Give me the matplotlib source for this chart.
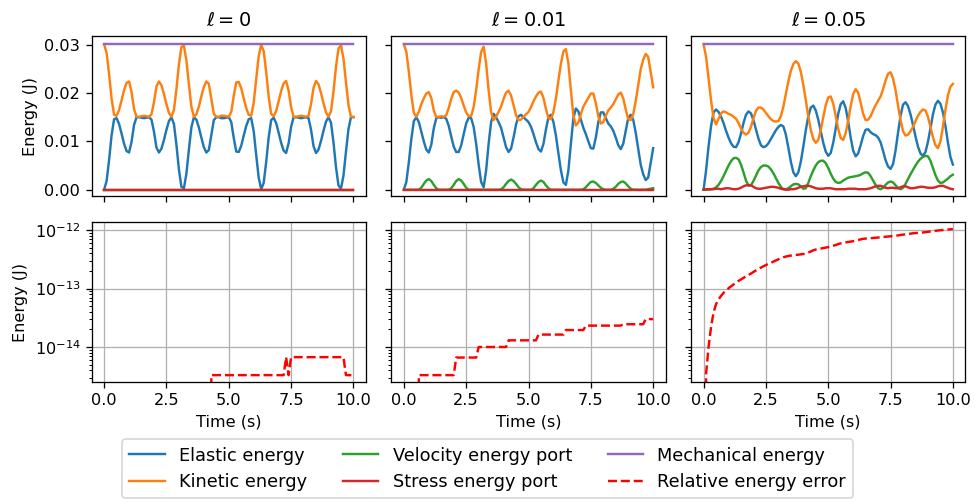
import numpy as np
import matplotlib
matplotlib.use("Agg")
import matplotlib.pyplot as plt

# time grid of the saved samples (s)
t = np.linspace(0.0, 10.0, 101)

ell_values = ["0", "0.01", "0.05"]
mechanical = [0.0301] * len(t)

# ---- ell = 0 ----
elastic_l0 = [
    0.0000, 0.0018, 0.0062, 0.0113, 0.0146, 0.0148, 0.0136, 0.0116, 0.0095, 0.0080,
    0.0077, 0.0099, 0.0134, 0.0150, 0.0150, 0.0149, 0.0148, 0.0149, 0.0150, 0.0145,
    0.0120, 0.0087, 0.0077, 0.0085, 0.0103, 0.0124, 0.0142, 0.0150, 0.0136, 0.0093,
    0.0042, 0.0006, 0.0003, 0.0033, 0.0083, 0.0129, 0.0150, 0.0145, 0.0129, 0.0108,
    0.0088, 0.0077, 0.0082, 0.0113, 0.0144, 0.0150, 0.0150, 0.0148, 0.0148, 0.0149,
    0.0150, 0.0140, 0.0107, 0.0079, 0.0078, 0.0091, 0.0112, 0.0132, 0.0146, 0.0148,
    0.0121, 0.0072, 0.0025, 0.0001, 0.0014, 0.0057, 0.0108, 0.0144, 0.0149, 0.0138,
    0.0118, 0.0097, 0.0081, 0.0076, 0.0096, 0.0130, 0.0150, 0.0150, 0.0149, 0.0148,
    0.0149, 0.0150, 0.0148, 0.0124, 0.0090, 0.0076, 0.0083, 0.0101, 0.0122, 0.0141,
    0.0150, 0.0139, 0.0098, 0.0047, 0.0009, 0.0002, 0.0029, 0.0078, 0.0125, 0.0150,
    0.0150]
kinetic_l0 = [
    0.0301, 0.0283, 0.0239, 0.0188, 0.0155, 0.0153, 0.0165, 0.0185, 0.0206, 0.0221,
    0.0224, 0.0202, 0.0167, 0.0151, 0.0151, 0.0152, 0.0153, 0.0152, 0.0151, 0.0156,
    0.0181, 0.0214, 0.0224, 0.0216, 0.0198, 0.0177, 0.0159, 0.0151, 0.0165, 0.0208,
    0.0259, 0.0295, 0.0298, 0.0268, 0.0218, 0.0172, 0.0151, 0.0156, 0.0172, 0.0193,
    0.0213, 0.0224, 0.0219, 0.0188, 0.0157, 0.0151, 0.0151, 0.0153, 0.0153, 0.0152,
    0.0151, 0.0161, 0.0194, 0.0222, 0.0223, 0.0210, 0.0189, 0.0169, 0.0155, 0.0153,
    0.0180, 0.0229, 0.0276, 0.0300, 0.0287, 0.0244, 0.0193, 0.0157, 0.0152, 0.0163,
    0.0183, 0.0204, 0.0220, 0.0225, 0.0205, 0.0171, 0.0151, 0.0151, 0.0152, 0.0153,
    0.0152, 0.0151, 0.0153, 0.0177, 0.0211, 0.0225, 0.0218, 0.0200, 0.0179, 0.0160,
    0.0151, 0.0162, 0.0203, 0.0254, 0.0292, 0.0299, 0.0272, 0.0223, 0.0176, 0.0151,
    0.0151]
velocity_l0 = [0.0] * len(t)
stress_l0 = [0.0] * len(t)
error_l0 = (
    [0.0] * 43
    + [3.3e-15] * 30
    + [6.7e-15, 3.3e-15]
    + [6.7e-15] * 22
    + [3.3e-15] * 4)

# ---- ell = 0.01 ----
elastic_l1 = [
    0.0000, 0.0016, 0.0057, 0.0105, 0.0142, 0.0150, 0.0140, 0.0120, 0.0100, 0.0083,
    0.0077, 0.0093, 0.0127, 0.0148, 0.0150, 0.0149, 0.0150, 0.0147, 0.0132, 0.0110,
    0.0089, 0.0078, 0.0078, 0.0092, 0.0115, 0.0137, 0.0149, 0.0148, 0.0130, 0.0095,
    0.0052, 0.0016, 0.0005, 0.0040, 0.0095, 0.0140, 0.0157, 0.0150, 0.0140, 0.0128,
    0.0108, 0.0088, 0.0078, 0.0085, 0.0108, 0.0135, 0.0152, 0.0155, 0.0150, 0.0145,
    0.0140, 0.0130, 0.0115, 0.0098, 0.0084, 0.0079, 0.0095, 0.0125, 0.0150, 0.0155,
    0.0140, 0.0112, 0.0075, 0.0040, 0.0015, 0.0010, 0.0040, 0.0095, 0.0148, 0.0168,
    0.0162, 0.0145, 0.0128, 0.0115, 0.0100, 0.0086, 0.0085, 0.0108, 0.0140, 0.0160,
    0.0160, 0.0148, 0.0137, 0.0131, 0.0122, 0.0108, 0.0092, 0.0084, 0.0095, 0.0122,
    0.0148, 0.0155, 0.0145, 0.0118, 0.0085, 0.0052, 0.0032, 0.0020, 0.0025, 0.0055,
    0.0086]
kinetic_l1 = [
    0.0301, 0.0285, 0.0244, 0.0196, 0.0159, 0.0151, 0.0161, 0.0177, 0.0189, 0.0199,
    0.0202, 0.0190, 0.0164, 0.0150, 0.0151, 0.0152, 0.0151, 0.0154, 0.0169, 0.0188,
    0.0202, 0.0205, 0.0201, 0.0190, 0.0174, 0.0160, 0.0152, 0.0153, 0.0171, 0.0206,
    0.0249, 0.0285, 0.0296, 0.0261, 0.0206, 0.0161, 0.0144, 0.0151, 0.0161, 0.0172,
    0.0188, 0.0201, 0.0205, 0.0195, 0.0175, 0.0154, 0.0144, 0.0145, 0.0151, 0.0156,
    0.0161, 0.0171, 0.0183, 0.0193, 0.0201, 0.0203, 0.0190, 0.0167, 0.0148, 0.0146,
    0.0161, 0.0189, 0.0226, 0.0261, 0.0286, 0.0291, 0.0261, 0.0206, 0.0153, 0.0133,
    0.0139, 0.0156, 0.0172, 0.0181, 0.0190, 0.0199, 0.0199, 0.0179, 0.0152, 0.0137,
    0.0140, 0.0153, 0.0164, 0.0170, 0.0177, 0.0187, 0.0197, 0.0201, 0.0189, 0.0166,
    0.0146, 0.0144, 0.0156, 0.0183, 0.0216, 0.0249, 0.0269, 0.0281, 0.0275, 0.0244,
    0.0212]
velocity_l1 = [
    0.0, 0.0, 0.0, 0.0, 0.0, 0.0, 0.0, 0.0004, 0.0012, 0.0019,
    0.0022, 0.0018, 0.0010, 0.0003, 0.0, 0.0, 0.0, 0.0, 0.0, 0.0003,
    0.0010, 0.0018, 0.0022, 0.0019, 0.0012, 0.0004, 0.0, 0.0, 0.0, 0.0,
    0.0, 0.0, 0.0, 0.0, 0.0, 0.0, 0.0, 0.0, 0.0, 0.0001,
    0.0005, 0.0012, 0.0018, 0.0021, 0.0018, 0.0012, 0.0005, 0.0001, 0.0, 0.0,
    0.0, 0.0, 0.0003, 0.0010, 0.0016, 0.0019, 0.0016, 0.0009, 0.0003, 0.0,
    0.0, 0.0, 0.0, 0.0, 0.0, 0.0, 0.0, 0.0, 0.0, 0.0,
    0.0, 0.0, 0.0001, 0.0005, 0.0011, 0.0016, 0.0017, 0.0014, 0.0009, 0.0004,
    0.0001, 0.0, 0.0, 0.0, 0.0002, 0.0006, 0.0012, 0.0016, 0.0017, 0.0013,
    0.0007, 0.0002, 0.0, 0.0, 0.0, 0.0, 0.0, 0.0, 0.0001, 0.0002,
    0.0003]
stress_l1 = [0.0] * len(t)
error_l1 = (
    [0.0] * 6
    + [3.3e-15] * 15
    + [6.6e-15] * 9
    + [1.0e-14] * 12
    + [1.3e-14] * 12
    + [1.63e-14] * 11
    + [1.95e-14] * 8
    + [2.32e-14] * 15
    + [2.45e-14] * 9
    + [3.0e-14] * 4)

# ---- ell = 0.05 ----
elastic_l5 = [
    0.0000, 0.0040, 0.0090, 0.0132, 0.0160, 0.0166, 0.0161, 0.0151, 0.0138, 0.0122,
    0.0108, 0.0096, 0.0089, 0.0088, 0.0098, 0.0116, 0.0138, 0.0155, 0.0162, 0.0158,
    0.0144, 0.0125, 0.0106, 0.0092, 0.0088, 0.0090, 0.0096, 0.0105, 0.0114, 0.0123,
    0.0130, 0.0134, 0.0131, 0.0114, 0.0087, 0.0058, 0.0036, 0.0028, 0.0036, 0.0058,
    0.0089, 0.0123, 0.0152, 0.0170, 0.0174, 0.0164, 0.0145, 0.0121, 0.0097, 0.0079,
    0.0070, 0.0076, 0.0097, 0.0127, 0.0157, 0.0177, 0.0183, 0.0169, 0.0141, 0.0108,
    0.0081, 0.0069, 0.0075, 0.0092, 0.0111, 0.0124, 0.0125, 0.0119, 0.0115, 0.0113,
    0.0108, 0.0098, 0.0080, 0.0061, 0.0048, 0.0043, 0.0053, 0.0081, 0.0118, 0.0153,
    0.0176, 0.0181, 0.0173, 0.0156, 0.0134, 0.0110, 0.0089, 0.0075, 0.0070, 0.0078,
    0.0099, 0.0127, 0.0156, 0.0176, 0.0184, 0.0178, 0.0160, 0.0132, 0.0098, 0.0068,
    0.0052]
kinetic_l5 = [
    0.0301, 0.0275, 0.0230, 0.0185, 0.0148, 0.0135, 0.0147, 0.0158, 0.0162, 0.0160,
    0.0157, 0.0155, 0.0151, 0.0147, 0.0138, 0.0127, 0.0118, 0.0114, 0.0118, 0.0130,
    0.0148, 0.0163, 0.0170, 0.0170, 0.0166, 0.0159, 0.0152, 0.0146, 0.0142, 0.0141,
    0.0142, 0.0152, 0.0172, 0.0198, 0.0224, 0.0246, 0.0260, 0.0266, 0.0261, 0.0244,
    0.0217, 0.0185, 0.0152, 0.0124, 0.0105, 0.0097, 0.0103, 0.0123, 0.0150, 0.0175,
    0.0191, 0.0193, 0.0178, 0.0153, 0.0126, 0.0107, 0.0103, 0.0117, 0.0143, 0.0173,
    0.0198, 0.0208, 0.0201, 0.0180, 0.0157, 0.0144, 0.0145, 0.0152, 0.0164, 0.0175,
    0.0184, 0.0193, 0.0208, 0.0226, 0.0240, 0.0243, 0.0230, 0.0206, 0.0174, 0.0144,
    0.0121, 0.0112, 0.0114, 0.0121, 0.0130, 0.0142, 0.0153, 0.0161, 0.0166, 0.0164,
    0.0151, 0.0130, 0.0109, 0.0092, 0.0086, 0.0100, 0.0130, 0.0165, 0.0195, 0.0213,
    0.0219]
velocity_l5 = [
    0.0, 0.0, 0.0, 0.0001, 0.0002, 0.0005, 0.0010, 0.0018, 0.0028, 0.0039,
    0.0050, 0.0059, 0.0065, 0.0066, 0.0063, 0.0052, 0.0036, 0.0019, 0.0008, 0.0009,
    0.0018, 0.0029, 0.0040, 0.0047, 0.0050, 0.0050, 0.0048, 0.0042, 0.0034, 0.0024,
    0.0014, 0.0006, 0.0001, 0.0001, 0.0003, 0.0007, 0.0011, 0.0012, 0.0011, 0.0007,
    0.0002, 0.0003, 0.0014, 0.0028, 0.0040, 0.0050, 0.0057, 0.0060, 0.0060, 0.0055,
    0.0045, 0.0033, 0.0023, 0.0016, 0.0014, 0.0015, 0.0019, 0.0022, 0.0025, 0.0026,
    0.0027, 0.0028, 0.0029, 0.0031, 0.0034, 0.0036, 0.0035, 0.0028, 0.0019, 0.0010,
    0.0003, 0.0001, 0.0004, 0.0010, 0.0015, 0.0017, 0.0015, 0.0009, 0.0004, 0.0001,
    0.0004, 0.0012, 0.0022, 0.0032, 0.0041, 0.0050, 0.0058, 0.0064, 0.0068, 0.0070,
    0.0069, 0.0060, 0.0045, 0.0030, 0.0019, 0.0014, 0.0015, 0.0019, 0.0023, 0.0028,
    0.0031]
stress_l5 = [
    0.0, 0.0001, 0.0001, 0.0001, 0.0001, 0.0002, 0.0002, 0.0001, 0.0002, 0.0003,
    0.0003, 0.0002, 0.0001, 0.0001, 0.0002, 0.0004, 0.0007, 0.0009, 0.0010, 0.0009,
    0.0006, 0.0003, 0.0002, 0.0002, 0.0003, 0.0004, 0.0005, 0.0006, 0.0006, 0.0005,
    0.0004, 0.0002, 0.0001, 0.0, 0.0, 0.0001, 0.0001, 0.0002, 0.0004, 0.0006,
    0.0007, 0.0008, 0.0008, 0.0007, 0.0005, 0.0003, 0.0002, 0.0002, 0.0002, 0.0003,
    0.0003, 0.0003, 0.0002, 0.0001, 0.0001, 0.0001, 0.0001, 0.0001, 0.0002, 0.0002,
    0.0002, 0.0002, 0.0001, 0.0001, 0.0001, 0.0001, 0.0002, 0.0003, 0.0005, 0.0007,
    0.0008, 0.0008, 0.0006, 0.0004, 0.0003, 0.0004, 0.0004, 0.0003, 0.0003, 0.0005,
    0.0007, 0.0007, 0.0005, 0.0003, 0.0003, 0.0004, 0.0005, 0.0006, 0.0006, 0.0005,
    0.0004, 0.0004, 0.0004, 0.0005, 0.0007, 0.0008, 0.0008, 0.0006, 0.0004, 0.0002,
    0.0001]
error_l5 = [
    0.0, 3.5e-15, 1.0e-14, 2.2e-14, 3.9e-14, 5.4e-14, 6.5e-14, 7.5e-14, 8.4e-14, 9.3e-14,
    1.01e-13, 1.09e-13, 1.17e-13, 1.26e-13, 1.35e-13, 1.43e-13, 1.52e-13, 1.62e-13, 1.71e-13, 1.80e-13,
    1.92e-13, 2.04e-13, 2.15e-13, 2.28e-13, 2.40e-13, 2.52e-13, 2.64e-13, 2.75e-13, 2.88e-13, 3.02e-13,
    3.16e-13, 3.30e-13, 3.42e-13, 3.52e-13, 3.60e-13, 3.66e-13, 3.71e-13, 3.75e-13, 3.79e-13, 3.84e-13,
    3.89e-13, 3.98e-13, 4.12e-13, 4.30e-13, 4.50e-13, 4.64e-13, 4.74e-13, 4.83e-13, 4.92e-13, 5.01e-13,
    5.10e-13, 5.23e-13, 5.38e-13, 5.55e-13, 5.75e-13, 5.92e-13, 6.05e-13, 6.15e-13, 6.25e-13, 6.35e-13,
    6.45e-13, 6.60e-13, 6.75e-13, 6.92e-13, 7.08e-13, 7.15e-13, 7.20e-13, 7.26e-13, 7.32e-13, 7.38e-13,
    7.45e-13, 7.52e-13, 7.60e-13, 7.68e-13, 7.76e-13, 7.82e-13, 7.90e-13, 8.00e-13, 8.10e-13, 8.22e-13,
    8.35e-13, 8.45e-13, 8.55e-13, 8.68e-13, 8.80e-13, 8.88e-13, 8.95e-13, 9.02e-13, 9.10e-13, 9.20e-13,
    9.32e-13, 9.45e-13, 9.58e-13, 9.70e-13, 9.82e-13, 9.92e-13, 1.00e-12, 1.01e-12, 1.02e-12, 1.03e-12,
    1.04e-12]

elastic = [elastic_l0, elastic_l1, elastic_l5]
kinetic = [kinetic_l0, kinetic_l1, kinetic_l5]
velocity = [velocity_l0, velocity_l1, velocity_l5]
stress = [stress_l0, stress_l1, stress_l5]
error = [error_l0, error_l1, error_l5]

fig, axes = plt.subplots(2, 3, figsize=(8.37, 4.31), dpi=116.5,
                         sharex=True, sharey="row")
fig.subplots_adjust(left=0.094, right=0.990, top=0.928, bottom=0.239,
                    wspace=0.093, hspace=0.163)

for j in range(3):
    ax = axes[0, j]
    ax.plot(t, elastic[j], color="C0", label="Elastic energy")
    ax.plot(t, kinetic[j], color="C1", label="Kinetic energy")
    ax.plot(t, velocity[j], color="C2", label="Velocity energy port")
    ax.plot(t, stress[j], color="C3", label="Stress energy port")
    ax.plot(t, mechanical, color="C4", label="Mechanical energy")
    ax.set_title(r"$\ell = %s$" % ell_values[j])

    ax2 = axes[1, j]
    ax2.semilogy(t, error[j], "r--", label="Relative energy error")
    ax2.grid(True)
    ax2.set_xlabel("Time (s)")

axes[0, 0].set_yticks([0.0, 0.01, 0.02, 0.03])
axes[0, 0].set_ylim(-0.0013, 0.0318)
axes[1, 0].set_ylim(2.52e-15, 1.37e-12)
axes[0, 0].set_ylabel("Energy (J)")
axes[1, 0].set_ylabel("Energy (J)")

handles, labels = axes[0, 0].get_legend_handles_labels()
h2, l2 = axes[1, 0].get_legend_handles_labels()
fig.legend(handles + h2, labels + l2, loc="lower center", ncol=3,
           fontsize=11, borderaxespad=0.2, bbox_to_anchor=(0.5, 0.0))

plt.savefig("out.png", dpi=116.5)
